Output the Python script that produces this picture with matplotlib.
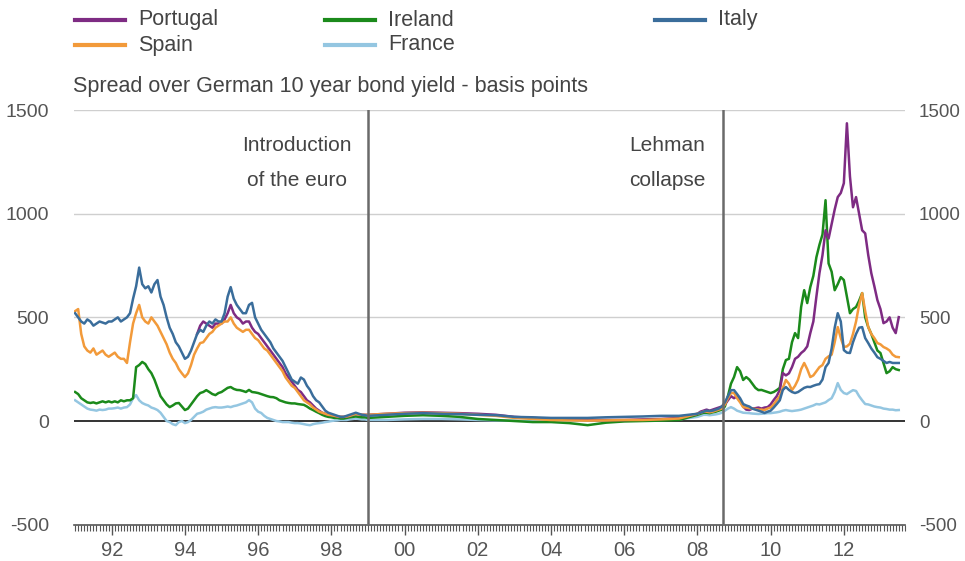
import numpy as np
import matplotlib
matplotlib.use("Agg")
import matplotlib.pyplot as plt
from matplotlib.lines import Line2D
from matplotlib.ticker import FixedLocator

plt.rcParams['font.family'] = ['Liberation Sans', 'DejaVu Sans']
plt.rcParams['axes.unicode_minus'] = False

# dates: monthly 1991-98, half-yearly 1999-2007, monthly 2008-mid 2013
dates_early = 1991 + np.arange(96) / 12
dates_mid = 1999 + np.arange(18) / 2
dates_late = 2008 + np.arange(67) / 12
dates = np.concatenate([dates_early, dates_mid, dates_late])

nan = np.nan

portugal = (
    [nan] * 40 +
    [420, 460, 480, 470, 460, 450, 470, 470] +
    [470, 490, 520, 560, 520, 500, 490, 470, 480, 480, 450, 430] +
    [420, 400, 380, 360, 340, 320, 300, 280, 260, 230, 210, 190] +
    [170, 150, 140, 120, 100, 90, 75, 60, 50, 40, 35, 30] +
    [28, 25, 22, 20, 20, 22, 25, 30, 35, 32, 30, 30] +
    [30, 35, 40, 42, 40, 38, 35, 30, 20, 15, 10, 8, 5, 5, 5, 8, 10, 15] +
    [35, 45, 50, 55, 50, 55, 60, 65, 70, 80, 100, 120] +
    [110, 120, 100, 70, 55, 53, 60, 62, 65, 60, 65, 67] +
    [80, 101, 120, 150, 231, 220, 230, 260, 300, 310, 328, 340] +
    [360, 424, 480, 600, 713, 800, 920, 880, 950, 1020, 1080, 1100] +
    [1147, 1436, 1180, 1031, 1080, 1000, 920, 905, 800, 713, 650, 583] +
    [540, 472, 480, 500, 450, 424, 501]
)

spain = (
    [530, 540, 420, 360, 340, 330, 350, 320, 330, 340, 320, 310] +
    [320, 330, 310, 300, 300, 280, 380, 470, 520, 560, 500, 480] +
    [470, 500, 480, 460, 430, 400, 370, 330, 300, 280, 250, 230] +
    [212, 230, 270, 320, 350, 376, 380, 400, 420, 430, 450, 460] +
    [470, 480, 480, 500, 470, 450, 440, 430, 440, 440, 420, 400] +
    [390, 370, 350, 340, 320, 300, 280, 260, 240, 210, 190, 170] +
    [160, 140, 120, 100, 90, 80, 65, 55, 45, 40, 35, 30] +
    [28, 25, 22, 20, 20, 22, 25, 30, 35, 32, 30, 30] +
    [30, 35, 38, 40, 38, 35, 30, 25, 15, 10, 5, 3, 2, 3, 5, 5, 8, 12] +
    [35, 40, 45, 45, 42, 45, 50, 55, 60, 80, 110, 135] +
    [135, 110, 90, 67, 65, 62, 60, 58, 55, 55, 53, 60] +
    [65, 80, 101, 120, 160, 198, 180, 149, 170, 200, 250, 280] +
    [250, 212, 220, 240, 260, 270, 300, 312, 320, 380, 453, 400] +
    [357, 360, 373, 420, 480, 560, 617, 530, 453, 420, 400, 376] +
    [370, 357, 350, 340, 320, 310, 308]
)

ireland = (
    [140, 130, 110, 100, 90, 87, 90, 85, 90, 95, 90, 95] +
    [90, 95, 90, 100, 95, 100, 100, 110, 260, 270, 285, 275] +
    [250, 231, 200, 160, 120, 100, 80, 67, 75, 85, 87, 70] +
    [53, 60, 80, 100, 120, 135, 140, 149, 140, 130, 125, 135] +
    [140, 150, 160, 164, 155, 150, 149, 145, 140, 150, 140, 138] +
    [135, 130, 125, 120, 116, 115, 110, 100, 95, 90, 87, 85] +
    [85, 82, 80, 78, 70, 60, 53, 45, 38, 30, 24, 20] +
    [18, 15, 15, 12, 12, 15, 18, 20, 22, 20, 18, 18] +
    [15, 20, 25, 28, 25, 20, 10, 5, 0, -5, -5, -10, -20, -8, -2, 0, 2, 5] +
    [30, 35, 40, 40, 38, 42, 45, 50, 55, 70, 120, 180] +
    [212, 260, 240, 198, 212, 200, 180, 160, 149, 150, 145, 140] +
    [135, 140, 149, 160, 250, 294, 300, 380, 424, 400, 550, 631] +
    [569, 646, 700, 790, 850, 900, 1065, 760, 720, 631, 660, 694] +
    [680, 600, 520, 540, 550, 580, 617, 500, 453, 420, 380, 340] +
    [328, 280, 231, 240, 260, 250, 246]
)

france = (
    [100, 90, 80, 70, 60, 55, 53, 50, 55, 53, 55, 60] +
    [60, 62, 65, 60, 65, 67, 80, 110, 125, 100, 87, 80] +
    [75, 65, 60, 53, 40, 20, 0, -5, -15, -20, -5, 0] +
    [-10, -5, 5, 20, 35, 39, 45, 55, 60, 65, 67, 65] +
    [65, 67, 70, 67, 72, 75, 80, 85, 90, 101, 90, 60] +
    [45, 39, 25, 15, 10, 5, 0, -2, -5, -5, -5, -8] +
    [-10, -10, -12, -15, -18, -20, -15, -12, -10, -8, -5, -3] +
    [0, 2, 3, 5, 5, 5, 8, 10, 12, 10, 8, 8] +
    [5, 5, 8, 10, 10, 8, 5, 3, 2, 0, 0, 0, 2, 3, 3, 3, 5, 8] +
    [20, 25, 30, 30, 28, 30, 32, 35, 40, 50, 60, 67] +
    [60, 50, 45, 40, 39, 38, 36, 35, 34, 35, 36, 38] +
    [38, 40, 42, 45, 50, 53, 50, 48, 50, 52, 55, 60] +
    [65, 70, 75, 82, 80, 85, 90, 101, 110, 140, 183, 150] +
    [135, 130, 140, 149, 145, 120, 100, 82, 80, 75, 70, 67] +
    [65, 60, 58, 55, 55, 52, 53]
)

italy = (
    [520, 500, 480, 470, 490, 480, 460, 470, 480, 475, 470, 480] +
    [480, 490, 500, 480, 490, 500, 520, 590, 650, 740, 660, 640] +
    [650, 620, 660, 680, 600, 560, 500, 450, 420, 380, 360, 330] +
    [300, 310, 340, 380, 420, 440, 430, 460, 480, 470, 490, 480] +
    [480, 520, 600, 646, 590, 560, 540, 520, 520, 560, 570, 500] +
    [470, 440, 420, 400, 380, 350, 330, 310, 290, 260, 230, 200] +
    [190, 180, 210, 200, 170, 150, 120, 100, 90, 70, 50, 40] +
    [35, 30, 25, 20, 20, 25, 30, 35, 40, 35, 30, 28] +
    [25, 30, 35, 38, 35, 33, 30, 28, 20, 18, 15, 15, 15, 18, 20, 22, 25, 25] +
    [35, 40, 45, 50, 48, 50, 55, 60, 70, 90, 120, 149] +
    [149, 130, 110, 82, 75, 70, 60, 55, 50, 45, 39, 45] +
    [50, 65, 82, 100, 150, 164, 150, 140, 135, 140, 150, 160] +
    [165, 164, 170, 175, 178, 200, 260, 280, 350, 450, 520, 480] +
    [342, 330, 328, 380, 420, 450, 453, 400, 376, 350, 330, 308] +
    [300, 290, 280, 285, 280, 280, 280]
)

names = ['Portugal', 'Spain', 'Ireland', 'France', 'Italy']
colors = {'Portugal': '#7e2b83', 'Spain': '#f29a3a', 'Ireland': '#1b8a1b',
          'France': '#94c6e1', 'Italy': '#3a6d9b'}
series = {'Portugal': portugal, 'Spain': spain, 'Ireland': ireland,
          'France': france, 'Italy': italy}

year_ticks = list(range(1992, 2013, 2))
year_labels = ['%02d' % (y % 100) for y in year_ticks]
y_ticks = [-500, 0, 500, 1000, 1500]

grey = '#555555'
txt = '#444444'

fig = plt.figure(figsize=(9.65, 5.61), dpi=100)
ax = fig.add_axes([0.0767, 0.0647, 0.8611, 0.7392])

for y in [500, 1000, 1500]:
    ax.axhline(y, color='#cfcfcf', lw=1.0, zorder=1)
ax.axhline(0, color='#111111', lw=1.2, zorder=2)

for n in ['France', 'Ireland', 'Portugal', 'Spain', 'Italy']:
    ax.plot(dates, series[n], color=colors[n], lw=1.8, zorder=3)

# events
ax.axvline(1999.0, color='#6a6a6a', lw=1.8, zorder=4)
ax.axvline(2008.71, color='#6a6a6a', lw=1.8, zorder=4)
ax.text(1997.05, 1330, 'Introduction', ha='center', va='center', fontsize=15, color=txt)
ax.text(1997.05, 1162, 'of the euro', ha='center', va='center', fontsize=15, color=txt)
ax.text(2007.17, 1330, 'Lehman', ha='center', va='center', fontsize=15, color=txt)
ax.text(2007.17, 1162, 'collapse', ha='center', va='center', fontsize=15, color=txt)

ax.set_xlim(1990.97, 2013.67)
ax.set_ylim(-500, 1500)
ax.set_xticks(year_ticks)
ax.set_xticklabels(year_labels)
ax.xaxis.set_minor_locator(FixedLocator(1991 + np.arange(0, 23 * 12) / 12))
ax.set_yticks(y_ticks)

for s in ['top', 'left', 'right']:
    ax.spines[s].set_visible(False)
ax.spines['bottom'].set_color(grey)
ax.spines['bottom'].set_linewidth(1.2)

ax.tick_params(axis='x', which='major', length=7, width=1.0, color=grey,
               labelsize=14.5, labelcolor=grey, pad=5)
ax.tick_params(axis='x', which='minor', length=4, width=0.8, color=grey)
ax.tick_params(axis='y', length=0, labelsize=14, labelcolor=grey, pad=18)
ax.patch.set_alpha(0)

# right hand labels
ax2 = ax.twinx()
ax2.set_ylim(-500, 1500)
ax2.set_yticks(y_ticks)
ax2.tick_params(axis='y', length=0, labelsize=13.5, labelcolor=grey, pad=10)
for s in ax2.spines.values():
    s.set_visible(False)

fig.text(0.0756, 0.845, 'Spread over German 10 year bond yield - basis points',
         fontsize=15.5, color=txt, va='center', ha='left')

# legend, drawn by hand
leg_pos = {'Portugal': (75, 20), 'Spain': (75, 45), 'Ireland': (325, 20),
           'France': (325, 45), 'Italy': (655, 20)}
W, H = 965.0, 561.0
for n in names:
    x0, y0 = leg_pos[n]
    fig.add_artist(Line2D([x0 / W, (x0 + 50) / W], [1 - y0 / H, 1 - y0 / H],
                          color=colors[n], lw=3, transform=fig.transFigure))
    fig.text((x0 + 63) / W, 1 - y0 / H, n, fontsize=15.5, color=txt,
             va='center', ha='left')

fig.savefig('out.png', dpi=100)
